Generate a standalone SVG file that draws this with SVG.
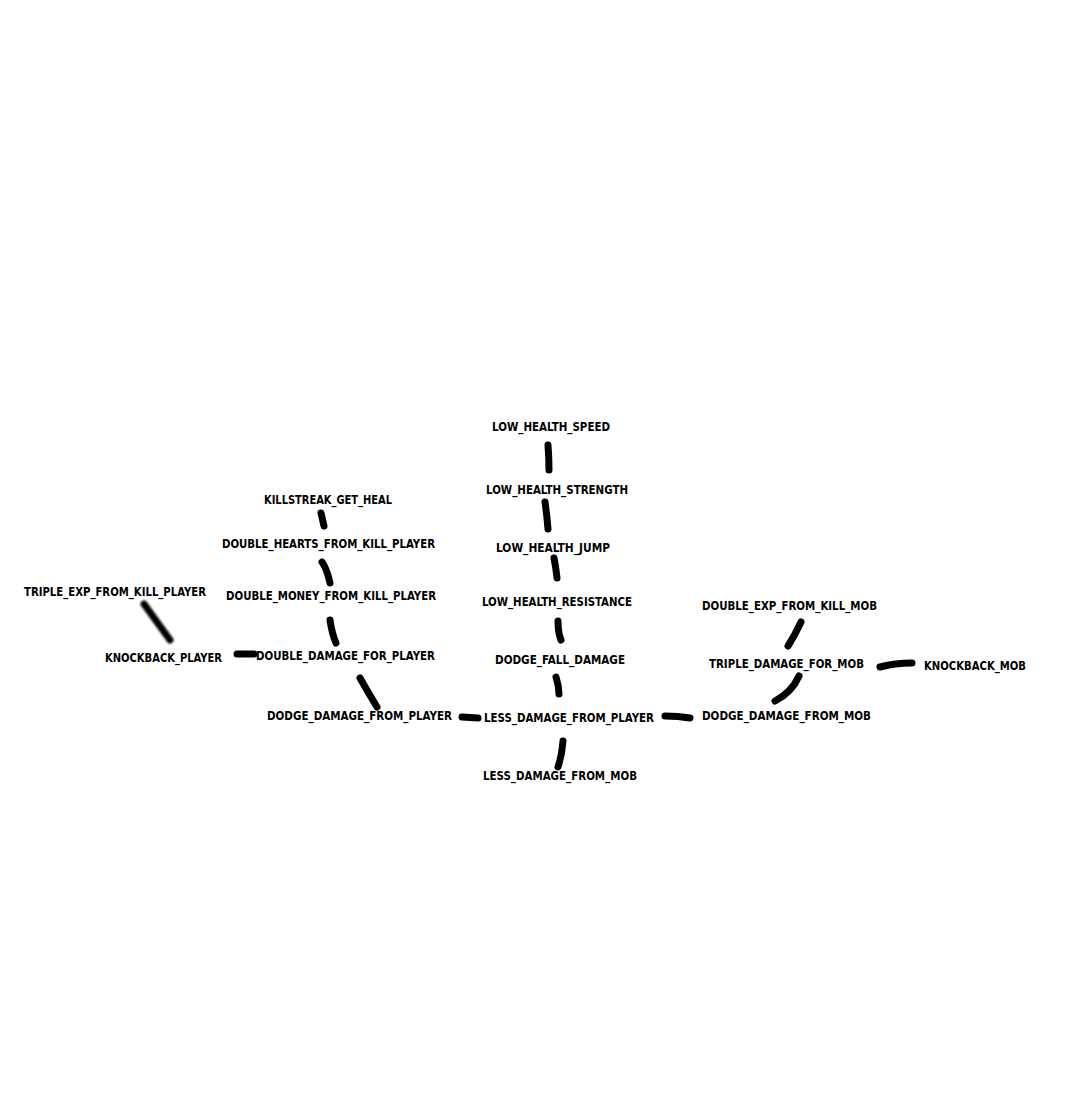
<svg xmlns="http://www.w3.org/2000/svg" width="1067" height="1099" viewBox="0 0 1067 1099">
<style>
text{font-family:"DejaVu Sans Condensed","DejaVu Sans","Liberation Sans",sans-serif;font-weight:bold;font-size:13px;fill:#000;text-anchor:middle}
.e{fill:none;stroke:#000;stroke-width:7;stroke-linecap:round;filter:url(#b)}
.e2{filter:url(#b2)}
</style>
<defs>
<filter id="b" filterUnits="userSpaceOnUse" x="0" y="0" width="1067" height="1099"><feGaussianBlur stdDeviation="0.6"/></filter>
<filter id="b2" filterUnits="userSpaceOnUse" x="0" y="0" width="1067" height="1099"><feGaussianBlur stdDeviation="1.3"/></filter>
</defs>
<rect width="1067" height="1099" fill="#fff"/>
<g id="connectors">
<path class="e" d="M548,445 Q549,458 549,470"/>
<path class="e" d="M545,502 Q547,516 548,529"/>
<path class="e" d="M554,558 Q556,568 557,578"/>
<path class="e" d="M558,621 Q558,633 561,640"/>
<path class="e" d="M556,677 Q559,686 559,694"/>
<path class="e" d="M563,741 Q562,755 558,767"/>
<path class="e" d="M462,717 L478,718"/>
<path class="e" d="M665,716 Q678,716 690,718"/>
<path class="e" d="M360,678 Q369,694 377,707"/>
<path class="e" d="M330,620 Q332,634 336,643"/>
<path class="e" d="M322,562 Q327,569 330,583"/>
<path class="e" d="M321,513 L324,526"/>
<path class="e e2" d="M144,604 L170,640"/>
<path class="e" d="M237,654 L254,654"/>
<path class="e" d="M801,622 Q795,635 788,646"/>
<path class="e" d="M799,676 Q792,692 775,701"/>
<path class="e" d="M880,667 Q895,663 912,663"/>
</g>
<g id="LOW_HEALTH_SPEED"><text x="551" y="431" textLength="118" lengthAdjust="spacingAndGlyphs">LOW_HEALTH_SPEED</text></g>
<g id="LOW_HEALTH_STRENGTH"><text x="557" y="494" textLength="142" lengthAdjust="spacingAndGlyphs">LOW_HEALTH_STRENGTH</text></g>
<g id="LOW_HEALTH_JUMP"><text x="553" y="552" textLength="114" lengthAdjust="spacingAndGlyphs">LOW_HEALTH_JUMP</text></g>
<g id="LOW_HEALTH_RESISTANCE"><text x="557" y="606" textLength="150" lengthAdjust="spacingAndGlyphs">LOW_HEALTH_RESISTANCE</text></g>
<g id="DODGE_FALL_DAMAGE"><text x="560" y="664" textLength="130" lengthAdjust="spacingAndGlyphs">DODGE_FALL_DAMAGE</text></g>
<g id="LESS_DAMAGE_FROM_PLAYER"><text x="569" y="722" textLength="170" lengthAdjust="spacingAndGlyphs">LESS_DAMAGE_FROM_PLAYER</text></g>
<g id="LESS_DAMAGE_FROM_MOB"><text x="560" y="780" textLength="154" lengthAdjust="spacingAndGlyphs">LESS_DAMAGE_FROM_MOB</text></g>
<g id="DODGE_DAMAGE_FROM_PLAYER"><text x="359.5" y="720" textLength="185" lengthAdjust="spacingAndGlyphs">DODGE_DAMAGE_FROM_PLAYER</text></g>
<g id="DOUBLE_DAMAGE_FOR_PLAYER"><text x="345.5" y="660" textLength="179" lengthAdjust="spacingAndGlyphs">DOUBLE_DAMAGE_FOR_PLAYER</text></g>
<g id="DOUBLE_MONEY_FROM_KILL_PLAYER"><text x="331" y="600" textLength="210" lengthAdjust="spacingAndGlyphs">DOUBLE_MONEY_FROM_KILL_PLAYER</text></g>
<g id="DOUBLE_HEARTS_FROM_KILL_PLAYER"><text x="328.5" y="548" textLength="213" lengthAdjust="spacingAndGlyphs">DOUBLE_HEARTS_FROM_KILL_PLAYER</text></g>
<g id="KILLSTREAK_GET_HEAL"><text x="328" y="504" textLength="128" lengthAdjust="spacingAndGlyphs">KILLSTREAK_GET_HEAL</text></g>
<g id="TRIPLE_EXP_FROM_KILL_PLAYER"><text x="115" y="596" textLength="182" lengthAdjust="spacingAndGlyphs">TRIPLE_EXP_FROM_KILL_PLAYER</text></g>
<g id="KNOCKBACK_PLAYER"><text x="163.5" y="662" textLength="117" lengthAdjust="spacingAndGlyphs">KNOCKBACK_PLAYER</text></g>
<g id="DOUBLE_EXP_FROM_KILL_MOB"><text x="789.5" y="610" textLength="175" lengthAdjust="spacingAndGlyphs">DOUBLE_EXP_FROM_KILL_MOB</text></g>
<g id="TRIPLE_DAMAGE_FOR_MOB"><text x="786.5" y="668" textLength="155" lengthAdjust="spacingAndGlyphs">TRIPLE_DAMAGE_FOR_MOB</text></g>
<g id="KNOCKBACK_MOB"><text x="975" y="670" textLength="102" lengthAdjust="spacingAndGlyphs">KNOCKBACK_MOB</text></g>
<g id="DODGE_DAMAGE_FROM_MOB"><text x="786.5" y="720" textLength="169" lengthAdjust="spacingAndGlyphs">DODGE_DAMAGE_FROM_MOB</text></g>
</svg>
